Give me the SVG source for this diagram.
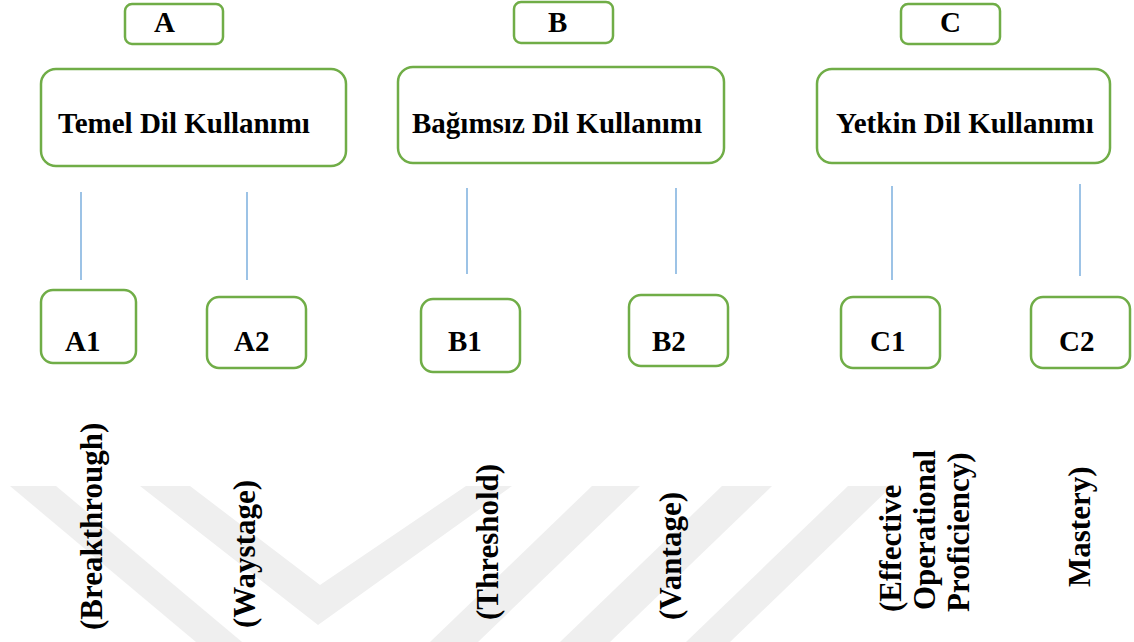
<svg xmlns="http://www.w3.org/2000/svg" width="1134" height="642" viewBox="0 0 1134 642">
<style>
.box{fill:#fff;stroke:#70ad47;stroke-width:2.5}
.t{font-family:"Liberation Serif","Times New Roman",serif;font-weight:bold;font-size:29px;fill:#000}
.v{font-family:"Liberation Serif","Times New Roman",serif;font-weight:bold;font-size:31px;fill:#000}
.ln{stroke:#5b9bd5;stroke-width:1.2;fill:none}
.wm{fill:#efefef}
</style>
<rect width="1134" height="642" fill="#fff"/>
<g id="watermark">
<polygon class="wm" points="10,486 56,486 242,642 196,642"/>
<polygon class="wm" points="140,486 190,486 320,585 466,486 512,486 318,625"/>
<polygon class="wm" points="592,486 640,486 478,642 430,642"/>
<polygon class="wm" points="722,486 772,486 610,642 560,642"/>
<polygon class="wm" points="848,486 892,486 730,642 686,642"/>
</g>
<g id="connectors">
<line class="ln" x1="81" y1="192" x2="81" y2="280"/>
<line class="ln" x1="247" y1="192" x2="247" y2="280"/>
<line class="ln" x1="467" y1="188" x2="467" y2="274"/>
<line class="ln" x1="676" y1="188" x2="676" y2="274"/>
<line class="ln" x1="892" y1="186" x2="892" y2="280"/>
<line class="ln" x1="1080" y1="184" x2="1080" y2="276"/>
</g>
<g id="A"><rect class="box" x="125" y="4" width="98" height="40" rx="7"/><text class="t" x="154" y="32">A</text></g>
<g id="B"><rect class="box" x="514" y="2" width="99" height="41" rx="7"/><text class="t" x="548" y="32">B</text></g>
<g id="C"><rect class="box" x="901" y="4" width="99" height="40" rx="7"/><text class="t" x="940" y="32">C</text></g>
<g id="temel"><rect class="box" x="41" y="69" width="305" height="97" rx="15"/><text class="t" x="58" y="133">Temel Dil Kullanımı</text></g>
<g id="bagimsiz"><rect class="box" x="398" y="67" width="326" height="96" rx="15"/><text class="t" x="412" y="133">Bağımsız Dil Kullanımı</text></g>
<g id="yetkin"><rect class="box" x="817" y="69" width="293" height="94" rx="15"/><text class="t" x="836" y="133">Yetkin Dil Kullanımı</text></g>
<g id="A1"><rect class="box" x="41" y="290" width="95" height="73" rx="12"/><text class="t" x="65" y="351">A1</text></g>
<g id="A2"><rect class="box" x="207" y="297" width="99" height="71" rx="12"/><text class="t" x="234" y="351">A2</text></g>
<g id="B1"><rect class="box" x="421" y="299" width="99" height="73" rx="12"/><text class="t" x="448" y="351">B1</text></g>
<g id="B2"><rect class="box" x="629" y="295" width="99" height="71" rx="12"/><text class="t" x="652" y="351">B2</text></g>
<g id="C1"><rect class="box" x="841" y="297" width="99" height="71" rx="12"/><text class="t" x="870" y="351">C1</text></g>
<g id="C2"><rect class="box" x="1031" y="297" width="99" height="71" rx="12"/><text class="t" x="1059" y="351">C2</text></g>
<g id="labels">
<text class="v" transform="translate(102,630) rotate(-90)">(Breakthrough)</text>
<text class="v" transform="translate(255,628) rotate(-90)">(Waystage)</text>
<text class="v" transform="translate(498,620) rotate(-90)">(Threshold)</text>
<text class="v" transform="translate(681,620) rotate(-90)">(Vantage)</text>
<text class="v" transform="translate(901,612) rotate(-90)">(Effective</text>
<text class="v" transform="translate(935,610) rotate(-90)">Operational</text>
<text class="v" transform="translate(969,612) rotate(-90)">Proficiency)</text>
<text class="v" transform="translate(1090,587) rotate(-90)">Mastery)</text>
</g>
</svg>
